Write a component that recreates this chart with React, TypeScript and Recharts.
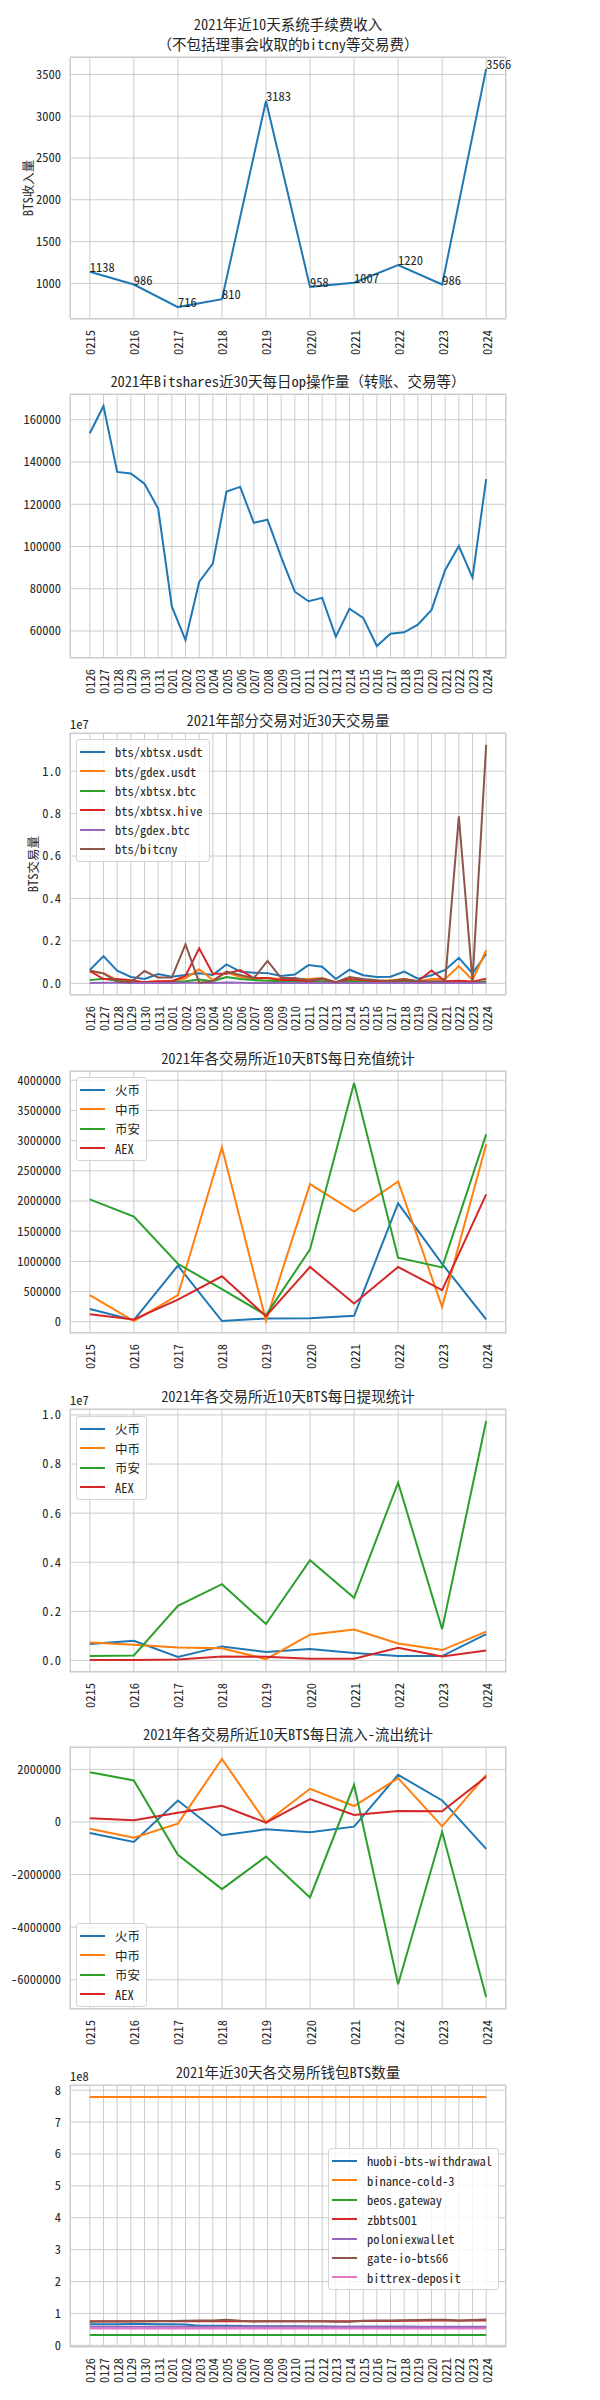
import React from 'react';
import { LineChart, Line, XAxis, YAxis, CartesianGrid, LabelList } from 'recharts';

const FONT = "'Noto Sans Mono CJK SC', 'Noto Sans CJK SC', sans-serif";
const INK = '#262626';
const GRID = '#cccccc';
const COLORS = ['#1f77b4', '#ff7f0e', '#2ca02c', '#d62728', '#9467bd', '#8c564b', '#e377c2'];

// ---------- categories ----------
const dates10 = ['0215', '0216', '0217', '0218', '0219', '0220', '0221', '0222', '0223', '0224'];
const dates30 = ['0126', '0127', '0128', '0129', '0130', '0131', '0201', '0202', '0203', '0204', '0205', '0206', '0207', '0208', '0209', '0210', '0211', '0212', '0213', '0214', '0215', '0216', '0217', '0218', '0219', '0220', '0221', '0222', '0223', '0224'];

// ---------- chart 1: fee income ----------
const feeIncome = [1138, 986, 716, 810, 3183, 958, 1007, 1220, 986, 3566];

// ---------- chart 2: daily ops ----------
const dailyOps = [153600, 166500, 135300, 134600, 129700, 118000, 71600, 55700, 83200, 91900, 126000, 128200, 111200, 112700, 95000, 78600, 74100, 75700, 57300, 70600, 66200, 52900, 58700, 59400, 63000, 70000, 88900, 100200, 85300, 131900];

// ---------- chart 3: pair volumes ----------
const volXbtsxUsdt = [626000, 1280000, 600000, 300000, 200000, 440000, 310000, 390000, 470000, 390000, 890000, 550000, 500000, 480000, 340000, 410000, 860000, 780000, 200000, 640000, 380000, 300000, 310000, 550000, 220000, 380000, 630000, 1200000, 470000, 1380000];
const volGdexUsdt = [550000, 470000, 160000, 80000, 50000, 100000, 100000, 230000, 660000, 150000, 520000, 300000, 200000, 250000, 200000, 200000, 200000, 250000, 50000, 150000, 100000, 100000, 150000, 200000, 100000, 200000, 200000, 810000, 160000, 1560000];
const volXbtsxBtc = [150000, 220000, 120000, 50000, 50000, 50000, 50000, 100000, 180000, 100000, 300000, 200000, 150000, 120000, 100000, 100000, 80000, 100000, 50000, 100000, 80000, 60000, 60000, 100000, 60000, 50000, 50000, 80000, 50000, 100000];
const volXbtsxHive = [580000, 200000, 200000, 150000, 50000, 100000, 100000, 350000, 1650000, 450000, 450000, 620000, 250000, 250000, 150000, 150000, 100000, 200000, 50000, 200000, 150000, 100000, 100000, 150000, 100000, 600000, 100000, 120000, 80000, 220000];
const volGdexBtc = [20000, 30000, 30000, 20000, 20000, 20000, 20000, 30000, 30000, 20000, 40000, 30000, 20000, 20000, 20000, 20000, 20000, 20000, 10000, 20000, 20000, 20000, 20000, 20000, 20000, 20000, 20000, 30000, 20000, 30000];
const volBitcny = [600000, 470000, 80000, 50000, 580000, 270000, 270000, 1840000, 30000, 100000, 550000, 390000, 240000, 1060000, 250000, 250000, 150000, 220000, 50000, 300000, 200000, 150000, 100000, 200000, 100000, 100000, 100000, 7870000, 100000, 11240000];

// ---------- chart 4: deposits ----------
const depHuobi = [210000, 27000, 930000, 11000, 55000, 60000, 99000, 1960000, 960000, 38000];
const depZb = [440000, 11000, 440000, 2885000, 16000, 2280000, 1824000, 2324000, 247000, 2940000];
const depBinance = [2027000, 1742000, 960000, 540000, 110000, 1198000, 3956000, 1060000, 900000, 3104000];
const depAex = [126000, 38000, 368000, 753000, 93000, 907000, 302000, 907000, 522000, 2110000];

// ---------- chart 5: withdrawals ----------
const wdHuobi = [665000, 800000, 136000, 570000, 340000, 460000, 300000, 176000, 176000, 1070000];
const wdZb = [730000, 640000, 530000, 490000, 54000, 1045000, 1260000, 690000, 420000, 1170000];
const wdBinance = [176000, 204000, 2225000, 3107000, 1479000, 4084000, 2550000, 7245000, 1275000, 9756000];
const wdAex = [14000, 14000, 40000, 163000, 150000, 68000, 68000, 516000, 163000, 407000];

// ---------- chart 6: net flow ----------
const netHuobi = [-417000, -760000, 820000, -506000, -278000, -390000, -177000, 1795000, 820000, -1024000];
const netZb = [-253000, -594000, -63000, 2400000, -25000, 1264000, 607000, 1669000, -164000, 1795000];
const netBinance = [1896000, 1580000, -1250000, -2554000, -1315000, -2870000, 1416000, -6170000, -367000, -6660000];
const netAex = [139000, 63000, 354000, 620000, -25000, 872000, 265000, 417000, 405000, 1720000];

// ---------- chart 7: wallet balances ----------
const walHuobi = [66000000, 66000000, 66000000, 66500000, 66500000, 66000000, 66000000, 65500000, 61500000, 61000000, 61000000, 60500000, 60000000, 60000000, 59500000, 59500000, 59000000, 59000000, 58500000, 58500000, 58500000, 58000000, 58000000, 58000000, 57500000, 57500000, 57500000, 57500000, 57500000, 57500000];
const walBinance = [779000000, 779000000, 779000000, 779000000, 779000000, 779000000, 779000000, 779000000, 779000000, 779000000, 779000000, 779000000, 779000000, 779000000, 779000000, 779000000, 779000000, 779000000, 779000000, 779000000, 779000000, 779000000, 779000000, 779000000, 779000000, 779000000, 779000000, 779000000, 779000000, 779000000];
const walBeos = [32000000, 32000000, 32000000, 32000000, 32000000, 32000000, 32000000, 32000000, 32000000, 32000000, 32000000, 32000000, 32000000, 32000000, 32000000, 32000000, 32000000, 32000000, 32000000, 32000000, 32000000, 32000000, 32000000, 32000000, 32000000, 32000000, 32000000, 32000000, 32000000, 32000000];
const walZb = [75500000, 75500000, 75500000, 75500000, 75500000, 75500000, 75500000, 75500000, 75500000, 75500000, 76000000, 75500000, 75500000, 75500000, 75500000, 75500000, 75500000, 75500000, 75500000, 75500000, 76000000, 76500000, 76500000, 77000000, 77000000, 77500000, 78000000, 77000000, 77500000, 78000000];
const walPoloniex = [58500000, 58500000, 58500000, 58500000, 58500000, 58500000, 58500000, 58500000, 58000000, 58000000, 58000000, 58000000, 58000000, 58000000, 58000000, 58000000, 58000000, 58000000, 58000000, 58000000, 58000000, 58000000, 58000000, 58000000, 58000000, 58000000, 58000000, 58000000, 58000000, 58000000];
const walGate = [74000000, 74500000, 75000000, 75000000, 75500000, 76000000, 76000000, 77000000, 77500000, 78000000, 80000000, 77000000, 75000000, 75500000, 75500000, 75500000, 75500000, 75500000, 74000000, 74000000, 77000000, 78000000, 78000000, 78500000, 79500000, 80500000, 80000000, 78000000, 79500000, 81000000];
const walBittrex = [53000000, 53000000, 53000000, 53000000, 53000000, 53000000, 53000000, 53000000, 53000000, 53000000, 53000000, 53000000, 53000000, 53000000, 53000000, 53000000, 53000000, 53000000, 53000000, 53000000, 53000000, 53000000, 53000000, 53000000, 53000000, 53000000, 53000000, 53000000, 53000000, 53000000];

// ---------- tick labels ----------
const ticksFee = [1000, 1500, 2000, 2500, 3000, 3500];
const ticksOps = [60000, 80000, 100000, 120000, 140000, 160000];
const ticksVol = [0, 2000000, 4000000, 6000000, 8000000, 10000000];
const ticksDep = [0, 500000, 1000000, 1500000, 2000000, 2500000, 3000000, 3500000, 4000000];
const ticksWd = [0, 2000000, 4000000, 6000000, 8000000, 10000000];
const ticksNet = [-6000000, -4000000, -2000000, 0, 2000000];
const ticksWal = [0, 100000000, 200000000, 300000000, 400000000, 500000000, 600000000, 700000000, 800000000];

const exchangeNames = ['火币', '中币', '币安', 'AEX'];

type Series = { name: string; values: number[]; color: string };
type LegendPos = { left?: number; right?: number; top?: number; bottom?: number };
type Panel = {
  y0: number;
  y1: number;
  title: string[];
  yLabel?: string;
  yLabelX?: number;
  offsetText?: string;
  dates: string[];
  series: Series[];
  yTicks: number[];
  yFmt: (v: number) => string;
  legend?: LegendPos;
  dataLabels?: boolean;
};

const mk = (names: string[], vals: number[][]): Series[] =>
  names.map((n, k) => ({ name: n, values: vals[k], color: COLORS[k] }));

const plain = (v: number) => String(v);
const e7 = (v: number) => (v / 1e7).toFixed(1);
const e8 = (v: number) => String(Math.round(v / 1e8));

const panels: Panel[] = [
  {
    y0: 57, y1: 319,
    title: ['2021年近10天系统手续费收入', '（不包括理事会收取的bitcny等交易费）'],
    yLabel: 'BTS收入量', yLabelX: 27,
    dates: dates10,
    series: [{ name: 'fee', values: feeIncome, color: COLORS[0] }],
    yTicks: ticksFee, yFmt: plain, dataLabels: true,
  },
  {
    y0: 394, y1: 658,
    title: ['2021年Bitshares近30天每日op操作量（转账、交易等）'],
    dates: dates30,
    series: [{ name: 'ops', values: dailyOps, color: COLORS[0] }],
    yTicks: ticksOps, yFmt: plain,
  },
  {
    y0: 733, y1: 995,
    title: ['2021年部分交易对近30天交易量'],
    yLabel: 'BTS交易量', yLabelX: 32, offsetText: '1e7',
    dates: dates30,
    series: mk(['bts/xbtsx.usdt', 'bts/gdex.usdt', 'bts/xbtsx.btc', 'bts/xbtsx.hive', 'bts/gdex.btc', 'bts/bitcny'],
      [volXbtsxUsdt, volGdexUsdt, volXbtsxBtc, volXbtsxHive, volGdexBtc, volBitcny]),
    yTicks: ticksVol, yFmt: e7,
    legend: { left: 76, top: 739 },
  },
  {
    y0: 1071, y1: 1333,
    title: ['2021年各交易所近10天BTS每日充值统计'],
    dates: dates10,
    series: mk(exchangeNames, [depHuobi, depZb, depBinance, depAex]),
    yTicks: ticksDep, yFmt: plain,
    legend: { left: 76, top: 1077 },
  },
  {
    y0: 1409, y1: 1672,
    title: ['2021年各交易所近10天BTS每日提现统计'],
    offsetText: '1e7',
    dates: dates10,
    series: mk(exchangeNames, [wdHuobi, wdZb, wdBinance, wdAex]),
    yTicks: ticksWd, yFmt: e7,
    legend: { left: 76, top: 1416 },
  },
  {
    y0: 1747, y1: 2009,
    title: ['2021年各交易所近10天BTS每日流入-流出统计'],
    dates: dates10,
    series: mk(exchangeNames, [netHuobi, netZb, netBinance, netAex]),
    yTicks: ticksNet, yFmt: plain,
    legend: { left: 76, top: 1923 },
  },
  {
    y0: 2085, y1: 2347,
    title: ['2021年近30天各交易所钱包BTS数量'],
    offsetText: '1e8',
    dates: dates30,
    series: mk(['huobi-bts-withdrawal', 'binance-cold-3', 'beos.gateway', 'zbbts001', 'poloniexwallet', 'gate-io-bts66', 'bittrex-deposit'],
      [walHuobi, walBinance, walBeos, walZb, walPoloniex, walGate, walBittrex]),
    yTicks: ticksWal, yFmt: e8,
    legend: { right: 101, top: 2148 },
  },
];

const PLOT_LEFT = 70;
const PLOT_RIGHT = 506;
const PAD = 50;
const XAXIS_H = 40;

const makeXTick = (dates: string[]) => (p: any) => {
  const x = p.x;
  const y = p.y + 11;
  return (
    <text x={x} y={y} transform={`rotate(-90 ${x} ${y})`} textAnchor="end" dominantBaseline="central"
      fontSize={12.5} fill={INK} fontFamily={FONT}>
      {dates[p.payload.value]}
    </text>
  );
};

const renderValueLabel = (p: any) => (
  <text x={p.x} y={p.y} textAnchor="start" fontSize={12.5} fill={INK} fontFamily={FONT}>
    {p.value}
  </text>
);

function LegendBox({ series, pos }: { series: Series[]; pos: LegendPos }) {
  return (
    <div style={{
      position: 'absolute', ...pos,
      background: 'rgba(255,255,255,0.8)', border: '1px solid #d4d4d4', borderRadius: 3,
      padding: '2.3px 6px 2.3px 3px', fontFamily: FONT, fontSize: 12.5, color: INK, boxSizing: 'border-box',
    }}>
      {series.map((s) => (
        <div key={s.name} style={{ display: 'flex', alignItems: 'center', height: 19.4, whiteSpace: 'nowrap' }}>
          <span style={{ display: 'inline-block', width: 25, height: 2, background: s.color, marginRight: 10 }} />
          <span>{s.name}</span>
        </div>
      ))}
    </div>
  );
}

function PanelChart({ cfg }: { cfg: Panel }) {
  const n = cfg.dates.length;
  const rows = cfg.dates.map((d, i) => {
    const r: any = { i, date: d };
    cfg.series.forEach((s, k) => { r['s' + k] = s.values[i]; });
    return r;
  });
  const all = cfg.series.flatMap((s) => s.values);
  const mn = Math.min(...all);
  const mx = Math.max(...all);
  const pad = (mx - mn) * 0.05;
  const xPad = (n - 1) * 0.05;
  const idx = cfg.dates.map((_, i) => i);
  const h = cfg.y1 - cfg.y0;
  return (
    <>
      <div style={{ position: 'absolute', left: 0, top: cfg.y0 - PAD }}>
        <LineChart width={600} height={h + PAD + XAXIS_H} data={rows}
          margin={{ top: PAD, right: 600 - PLOT_RIGHT, bottom: 0, left: 0 }}>
          <CartesianGrid stroke={GRID} strokeWidth={1} />
          <XAxis type="number" dataKey="i" domain={[-xPad, n - 1 + xPad]} ticks={idx} interval={0}
            allowDataOverflow tickLine={false} axisLine={false} tickSize={0} tickMargin={0}
            height={XAXIS_H} tick={makeXTick(cfg.dates)} />
          <YAxis type="number" domain={[mn - pad, mx + pad]} ticks={cfg.yTicks} interval={0}
            allowDataOverflow width={PLOT_LEFT} tickLine={false} axisLine={false} tickSize={0} tickMargin={9}
            tickFormatter={cfg.yFmt} tick={{ fontSize: 12.5, fill: INK, fontFamily: FONT }} />
          {cfg.series.map((s, k) => (
            <Line key={s.name} type="linear" dataKey={'s' + k} stroke={s.color} strokeWidth={2}
              dot={false} activeDot={false} isAnimationActive={false}>
              {cfg.dataLabels ? <LabelList dataKey={'s' + k} content={renderValueLabel} /> : null}
            </Line>
          ))}
        </LineChart>
      </div>
      <div style={{
        position: 'absolute', left: PLOT_LEFT, top: cfg.y0, width: PLOT_RIGHT - PLOT_LEFT, height: h,
        border: '1px solid ' + GRID, boxSizing: 'border-box', pointerEvents: 'none',
      }} />
      {cfg.legend ? <LegendBox series={cfg.series} pos={cfg.legend} /> : null}
    </>
  );
}

function Overlay() {
  const cx = (PLOT_LEFT + PLOT_RIGHT) / 2;
  return (
    <svg width={600} height={2400} style={{ position: 'absolute', left: 0, top: 0, pointerEvents: 'none' }}>
      {panels.map((p, pi) => (
        <g key={pi} fontFamily={FONT} fill={INK}>
          {p.title.map((t, ti) => (
            <text key={ti} x={cx} y={p.y0 - 14 - (p.title.length - 1 - ti) * 20} textAnchor="middle"
              dominantBaseline="central" fontSize={14.5}>{t}</text>
          ))}
          {p.offsetText ? (
            <text x={PLOT_LEFT} y={p.y0 - 10} dominantBaseline="central" fontSize={12.5}>{p.offsetText}</text>
          ) : null}
          {p.yLabel ? (
            <text x={p.yLabelX} y={(p.y0 + p.y1) / 2} textAnchor="middle" dominantBaseline="central" fontSize={12.5}
              transform={`rotate(-90 ${p.yLabelX} ${(p.y0 + p.y1) / 2})`}>{p.yLabel}</text>
          ) : null}
        </g>
      ))}
    </svg>
  );
}

export default function App() {
  return (
    <div style={{ position: 'absolute', left: 0, top: 0, width: 600, height: 2400, background: '#fff', overflow: 'hidden' }}>
      {panels.map((p, i) => <PanelChart key={i} cfg={p} />)}
      <Overlay />
    </div>
  );
}
